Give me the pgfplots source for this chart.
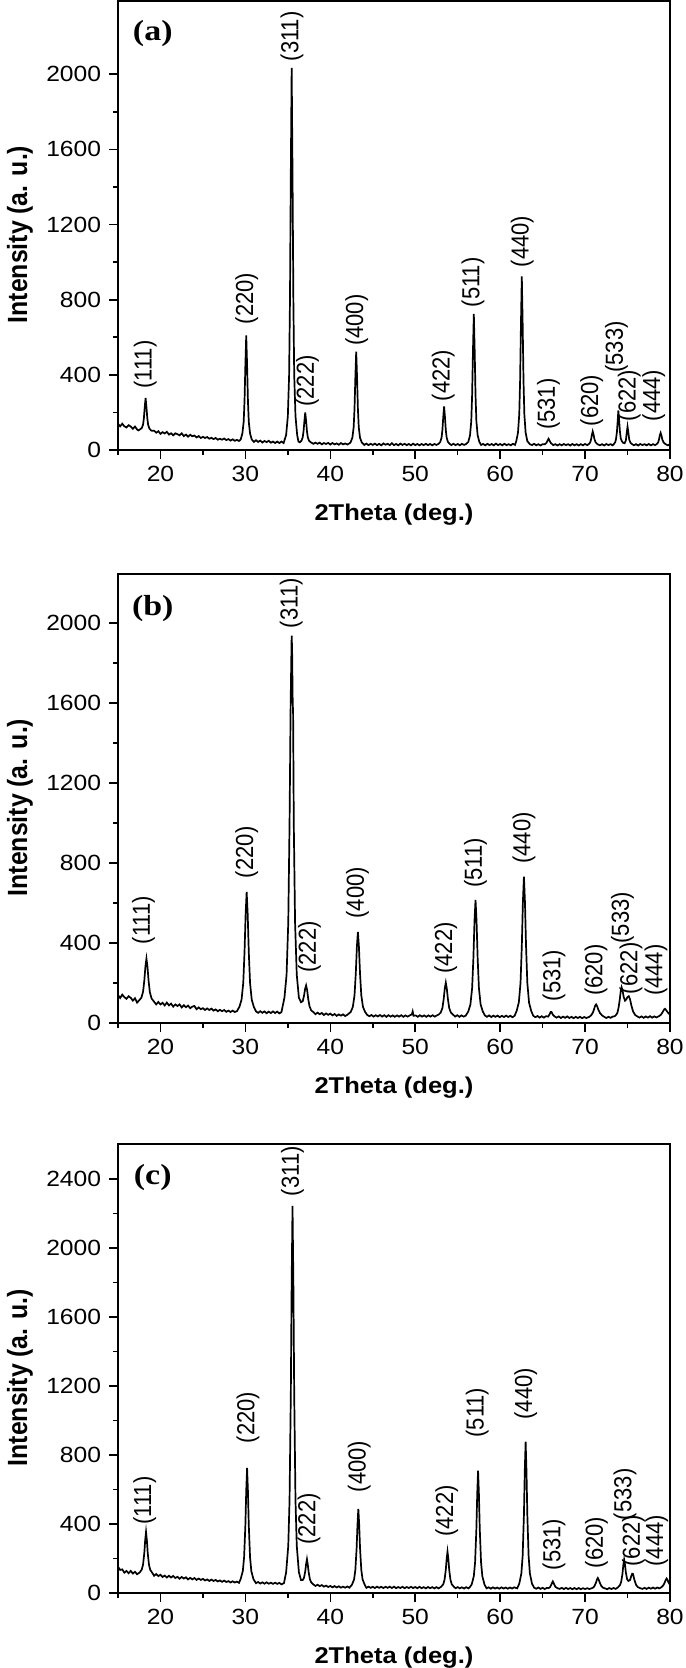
\documentclass[border=0pt]{standalone}
\usepackage{fontspec}
\setmainfont{Liberation Sans}
\newfontfamily\panelfont{Liberation Serif}
\usepackage{pgfplots}
\usepackage{pgfplotstable}
\pgfplotsset{compat=1.18}

\pgfplotstableread[row sep=\\]{
x y\\
15.00 140\\ 15.25 126\\ 15.50 140\\ 15.75 126\\ 16.00 120\\ 16.25 132\\ 16.50 125\\ 16.75 113\\ 17.00 125\\ 17.25 109\\ 17.40 104\\
17.60 110\\ 17.80 117\\ 17.95 135\\ 18.05 170\\ 18.15 229\\ 18.25 277\\ 18.35 228\\ 18.45 169\\ 18.55 134\\ 18.70 114\\ 18.90 104\\
19.00 102\\ 19.25 103\\ 19.50 92\\ 19.75 100\\ 20.00 86\\ 20.25 95\\ 20.50 88\\ 20.75 97\\ 21.00 82\\ 21.25 89\\ 21.50 78\\ 21.75 89\\
22.00 84\\ 22.25 78\\ 22.50 89\\ 22.75 74\\ 23.00 82\\ 23.25 71\\ 23.50 81\\ 23.75 73\\ 24.00 77\\ 24.25 67\\ 24.50 74\\ 24.75 64\\
25.00 70\\ 25.25 64\\ 25.50 69\\ 25.75 60\\ 26.00 65\\ 26.25 58\\ 26.50 64\\ 26.75 55\\ 27.00 60\\ 27.25 55\\ 27.50 61\\ 27.75 53\\
28.00 58\\ 28.25 50\\ 28.50 57\\ 28.75 49\\ 29.00 54\\ 29.25 48\\
29.45 56\\ 29.65 89\\ 29.80 151\\ 29.90 263\\ 30.00 453\\ 30.10 610\\ 30.20 453\\ 30.30 263\\ 30.40 150\\ 30.55 88\\ 30.75 56\\
31.00 43\\ 31.25 52\\ 31.50 43\\ 31.75 50\\ 32.00 40\\ 32.25 48\\ 32.50 42\\ 32.75 49\\ 33.00 39\\ 33.25 45\\ 33.50 37\\ 33.75 45\\
34.00 37\\ 34.25 45\\ 34.50 37\\
34.80 80\\ 35.00 180\\ 35.15 399\\ 35.25 798\\ 35.35 1476\\ 35.45 2034\\ 35.55 1476\\ 35.65 798\\ 35.75 399\\ 35.90 180\\ 36.10 79\\
36.25 45\\ 36.40 41\\ 36.60 49\\ 36.75 67\\ 36.85 100\\ 36.95 155\\ 37.05 200\\ 37.15 155\\ 37.25 100\\ 37.35 67\\ 37.50 49\\ 37.70 41\\
38.00 33\\ 38.25 39\\ 38.50 33\\ 38.75 39\\ 39.00 30\\ 39.25 37\\ 39.50 32\\ 39.75 38\\ 40.00 29\\ 40.25 37\\ 40.50 30\\ 40.75 35\\
41.00 28\\ 41.25 37\\ 41.50 30\\ 41.75 35\\ 42.00 29\\ 42.25 35\\
42.40 42\\ 42.60 66\\ 42.75 121\\ 42.85 219\\ 42.95 386\\ 43.05 524\\ 43.15 386\\ 43.25 219\\ 43.35 121\\ 43.50 65\\ 43.70 41\\
44.00 27\\ 44.25 34\\ 44.50 26\\ 44.75 33\\ 45.00 27\\ 45.25 34\\ 45.50 26\\ 45.75 33\\ 46.00 25\\ 46.25 35\\ 46.50 28\\ 46.75 33\\
47.00 26\\ 47.25 36\\ 47.50 26\\ 47.75 32\\ 48.00 25\\ 48.25 34\\ 48.50 27\\ 48.75 33\\ 49.00 26\\ 49.25 32\\ 49.50 25\\ 49.75 34\\
50.00 26\\ 50.25 32\\ 50.50 25\\ 50.75 32\\ 51.00 26\\ 51.25 33\\ 51.50 26\\ 51.75 32\\ 52.00 25\\ 52.25 32\\ 52.50 27\\
52.75 33\\ 52.95 43\\ 53.10 66\\ 53.20 106\\ 53.30 175\\ 53.40 232\\ 53.50 175\\ 53.60 106\\ 53.70 66\\ 53.85 43\\ 54.05 33\\
54.25 26\\ 54.50 33\\ 54.75 26\\ 55.00 32\\ 55.25 25\\ 55.50 33\\ 55.75 27\\ 56.00 32\\
56.25 43\\ 56.45 78\\ 56.60 154\\ 56.70 293\\ 56.80 529\\ 56.90 724\\ 57.00 529\\ 57.10 293\\ 57.20 154\\ 57.35 78\\ 57.55 43\\
57.75 27\\ 58.00 32\\ 58.25 25\\ 58.50 33\\ 58.75 26\\ 59.00 32\\ 59.25 25\\ 59.50 34\\ 59.75 26\\ 60.00 32\\ 60.25 25\\ 60.50 33\\
60.75 26\\ 61.00 31\\ 61.25 25\\ 61.50 33\\ 61.75 27\\
61.90 47\\ 62.10 92\\ 62.25 190\\ 62.35 369\\ 62.45 673\\ 62.55 924\\ 62.65 673\\ 62.75 369\\ 62.85 190\\ 63.00 92\\ 63.20 47\\
63.50 31\\ 63.75 26\\ 64.00 33\\ 64.25 25\\ 64.50 31\\ 64.75 24\\ 65.00 31\\ 65.25 30\\
65.45 38\\ 65.60 52\\ 65.70 60\\ 65.80 52\\ 65.95 38\\
66.25 26\\ 66.50 31\\ 66.75 24\\ 67.00 31\\ 67.25 25\\ 67.50 32\\ 67.75 26\\ 68.00 31\\ 68.25 24\\ 68.50 32\\ 68.75 25\\ 69.00 31\\
69.25 24\\ 69.50 31\\ 69.75 25\\ 70.00 32\\ 70.25 26\\
70.45 32\\ 70.60 40\\ 70.70 55\\ 70.80 80\\ 70.90 99\\ 71.00 82\\ 71.10 58\\ 71.25 40\\ 71.45 31\\
71.75 25\\ 72.00 31\\ 72.25 24\\ 72.50 32\\ 72.75 26\\ 73.00 31\\ 73.25 25\\
73.40 32\\ 73.55 42\\ 73.65 60\\ 73.75 97\\ 73.85 160\\ 73.92 210\\ 74.00 165\\ 74.10 100\\ 74.20 62\\ 74.35 45\\ 74.50 38\\
74.65 36\\ 74.80 50\\ 74.90 90\\ 75.00 124\\ 75.10 92\\ 75.20 55\\ 75.35 38\\ 75.55 31\\
75.75 25\\ 76.00 31\\ 76.25 24\\ 76.50 32\\ 76.75 26\\ 77.00 31\\ 77.25 25\\ 77.50 32\\ 77.75 25\\ 78.00 31\\ 78.25 26\\
78.45 32\\ 78.60 40\\ 78.70 55\\ 78.80 78\\ 78.90 91\\ 79.00 76\\ 79.10 55\\ 79.25 40\\ 79.45 32\\ 79.75 25\\ 80.00 31\\
}\dataA

\pgfplotstableread[row sep=\\]{
x y\\
15.00 140\\ 15.25 125\\ 15.50 142\\ 15.75 129\\ 16.00 121\\ 16.25 134\\ 16.50 126\\ 16.75 112\\ 17.00 124\\ 17.25 102\\
17.50 114\\ 17.75 126\\ 17.95 156\\ 18.10 213\\ 18.23 283\\ 18.35 322\\ 18.47 282\\ 18.60 212\\ 18.75 154\\ 18.95 123\\ 19.20 109\\
19.50 93\\ 19.75 105\\ 20.00 93\\ 20.25 101\\ 20.50 88\\ 20.75 102\\ 21.00 88\\ 21.25 97\\ 21.50 82\\ 21.75 93\\ 22.00 85\\ 22.25 93\\
22.50 78\\ 22.75 89\\ 23.00 79\\ 23.25 87\\ 23.50 74\\ 23.75 82\\ 24.00 85\\ 24.25 69\\ 24.50 78\\ 24.75 69\\ 25.00 74\\ 25.25 65\\
25.50 73\\ 25.75 65\\ 26.00 72\\ 26.25 62\\ 26.50 68\\ 26.75 59\\ 27.00 66\\ 27.25 59\\ 27.50 65\\ 27.75 56\\ 28.00 62\\ 28.25 55\\
28.50 62\\ 28.75 55\\ 29.00 59\\
29.30 81\\ 29.55 117\\ 29.75 201\\ 29.90 356\\ 30.03 547\\ 30.15 655\\ 30.27 546\\ 30.40 355\\ 30.55 200\\ 30.75 116\\ 31.00 80\\
31.25 58\\ 31.50 51\\ 31.75 59\\ 32.00 51\\ 32.25 58\\ 32.50 49\\ 32.75 57\\ 33.00 50\\ 33.25 58\\ 33.50 50\\ 33.75 57\\ 34.00 48\\ 34.25 55\\
34.60 127\\ 34.85 241\\ 35.05 504\\ 35.20 994\\ 35.33 1598\\ 35.40 1800\\ 35.45 1937\\ 35.50 1870\\ 35.57 1610\\ 35.62 1545\\ 35.70 994\\ 35.85 504\\ 36.05 241\\ 36.30 127\\
36.55 104\\ 36.75 109\\ 36.90 135\\ 37.03 170\\ 37.15 188\\ 37.27 165\\ 37.40 120\\ 37.55 84\\ 37.75 63\\ 38.00 55\\
38.25 44\\ 38.50 52\\ 38.75 44\\ 39.00 50\\ 39.25 40\\ 39.50 48\\ 39.75 41\\ 40.00 47\\ 40.25 38\\ 40.50 45\\ 40.75 36\\ 41.00 43\\
41.25 37\\ 41.50 43\\ 41.75 35\\ 42.00 41\\
42.40 55\\ 42.65 80\\ 42.85 138\\ 43.00 247\\ 43.13 381\\ 43.25 456\\ 43.37 381\\ 43.50 247\\ 43.65 138\\ 43.85 80\\ 44.10 55\\
44.35 40\\ 44.60 34\\ 44.85 40\\ 45.10 32\\ 45.35 39\\ 45.60 33\\ 45.85 40\\ 46.10 32\\ 46.35 39\\ 46.60 31\\ 46.85 39\\ 47.10 32\\
47.35 38\\ 47.60 31\\ 47.85 38\\ 48.10 32\\ 48.35 39\\ 48.60 31\\ 48.85 38\\ 49.10 32\\ 49.35 38\\ 49.60 43\\ 49.70 58\\ 49.80 36\\
50.05 38\\ 50.30 31\\ 50.55 39\\ 50.80 32\\ 51.05 38\\ 51.30 31\\ 51.55 38\\ 51.80 32\\ 52.05 39\\ 52.30 32\\ 52.55 38\\
52.75 42\\ 53.00 52\\ 53.20 75\\ 53.35 119\\ 53.48 172\\ 53.60 202\\ 53.72 172\\ 53.85 119\\ 54.00 75\\ 54.20 52\\ 54.45 42\\
54.70 32\\ 54.95 39\\ 55.20 31\\ 55.45 38\\ 55.70 32\\ 55.95 37\\
56.25 58\\ 56.50 93\\ 56.70 174\\ 56.85 325\\ 56.98 511\\ 57.10 616\\ 57.22 511\\ 57.35 325\\ 57.50 174\\ 57.70 93\\ 57.95 58\\
58.20 38\\ 58.45 31\\ 58.70 38\\ 58.95 30\\ 59.20 37\\ 59.45 31\\ 59.70 37\\ 59.95 29\\ 60.20 36\\ 60.45 30\\ 60.70 37\\ 60.95 30\\
61.20 36\\ 61.45 29\\ 61.70 36\\
61.95 61\\ 62.20 103\\ 62.40 201\\ 62.55 383\\ 62.68 606\\ 62.80 732\\ 62.92 606\\ 63.05 383\\ 63.20 201\\ 63.40 103\\ 63.65 61\\
63.90 36\\ 64.15 29\\ 64.40 35\\ 64.65 27\\ 64.90 34\\ 65.15 27\\ 65.40 34\\ 65.65 32\\
65.80 42\\ 65.95 55\\ 66.05 55\\ 66.20 42\\ 66.40 33\\
66.65 27\\ 66.90 33\\ 67.15 25\\ 67.40 32\\ 67.65 26\\ 67.90 33\\ 68.15 25\\ 68.40 31\\ 68.65 24\\ 68.90 31\\ 69.15 25\\ 69.40 31\\
69.65 24\\ 69.90 30\\ 70.15 25\\
70.50 31\\ 70.75 40\\ 70.95 55\\ 71.10 75\\ 71.20 88\\ 71.30 93\\ 71.42 84\\ 71.55 68\\ 71.75 50\\ 72.00 38\\ 72.25 31\\
72.50 25\\ 72.75 31\\ 73.00 26\\ 73.25 32\\ 73.50 34\\
73.60 38\\ 73.80 50\\ 73.95 78\\ 74.10 122\\ 74.20 160\\ 74.30 179\\ 74.40 165\\ 74.55 130\\ 74.70 112\\ 74.85 118\\ 75.00 130\\
75.15 134\\ 75.30 118\\ 75.45 88\\ 75.65 58\\ 75.90 40\\ 76.15 33\\
76.40 27\\ 76.65 33\\ 76.90 26\\ 77.15 33\\ 77.40 27\\ 77.65 34\\ 77.90 27\\ 78.15 33\\ 78.40 28\\
78.70 34\\ 78.95 42\\ 79.15 56\\ 79.30 67\\ 79.40 71\\ 79.52 66\\ 79.65 58\\ 79.80 50\\ 80.00 42\\
}\dataB

\pgfplotstableread[row sep=\\]{
x y\\
15.00 152\\ 15.25 134\\ 15.50 137\\ 15.75 118\\ 16.00 128\\ 16.25 115\\ 16.50 128\\ 16.75 113\\ 17.00 123\\ 17.25 109\\
17.55 119\\ 17.80 136\\ 17.95 165\\ 18.10 233\\ 18.20 306\\ 18.30 354\\ 18.40 305\\ 18.50 232\\ 18.65 163\\ 18.80 134\\ 19.05 116\\
19.25 100\\ 19.50 110\\ 19.75 98\\ 20.00 106\\ 20.25 93\\ 20.50 101\\ 20.75 90\\ 21.00 100\\ 21.25 90\\ 21.50 99\\ 21.75 87\\
22.00 94\\ 22.25 83\\ 22.50 93\\ 22.75 84\\ 23.00 91\\ 23.25 79\\ 23.50 88\\ 23.75 79\\ 24.00 87\\ 24.25 76\\ 24.50 84\\ 24.75 76\\
25.00 82\\ 25.25 73\\ 25.50 79\\ 25.75 70\\ 26.00 78\\ 26.25 70\\ 26.50 76\\ 26.75 67\\ 27.00 73\\ 27.25 65\\ 27.50 72\\ 27.75 64\\
28.00 69\\ 28.25 61\\ 28.50 68\\ 28.75 61\\ 29.00 66\\ 29.25 59\\
29.45 82\\ 29.70 128\\ 29.85 208\\ 30.00 394\\ 30.10 592\\ 30.20 725\\ 30.30 591\\ 30.40 393\\ 30.55 207\\ 30.70 127\\ 30.95 80\\
31.25 57\\ 31.50 64\\ 31.75 55\\ 32.00 62\\ 32.25 54\\ 32.50 62\\ 32.75 54\\ 33.00 60\\ 33.25 53\\ 33.50 60\\ 33.75 53\\ 34.00 59\\
34.25 50\\ 34.55 58\\
34.80 121\\ 35.05 274\\ 35.20 537\\ 35.35 1150\\ 35.45 1806\\ 35.55 2244\\ 35.65 1806\\ 35.75 1150\\ 35.90 537\\ 36.05 274\\ 36.30 121\\ 36.55 75\\
36.75 75\\ 36.90 88\\ 37.05 126\\ 37.15 167\\ 37.25 196\\ 37.35 164\\ 37.45 121\\ 37.60 79\\ 37.75 62\\
38.00 50\\ 38.25 41\\ 38.50 48\\ 38.75 40\\ 39.00 46\\ 39.25 37\\ 39.50 43\\ 39.75 35\\ 40.00 41\\ 40.25 33\\ 40.50 40\\ 40.75 32\\
41.00 39\\ 41.25 31\\ 41.50 37\\ 41.75 31\\ 42.00 38\\ 42.25 31\\
42.55 48\\ 42.80 79\\ 42.95 134\\ 43.10 261\\ 43.20 396\\ 43.30 488\\ 43.40 396\\ 43.50 261\\ 43.65 134\\ 43.80 79\\ 44.05 48\\
44.25 30\\ 44.50 37\\ 44.75 30\\ 45.00 36\\ 45.25 29\\ 45.50 37\\ 45.75 30\\ 46.00 36\\ 46.25 29\\ 46.50 36\\ 46.75 30\\ 47.00 37\\
47.25 29\\ 47.50 37\\ 47.75 28\\ 48.00 35\\ 48.25 29\\ 48.50 36\\ 48.75 28\\ 49.00 35\\ 49.25 29\\ 49.50 36\\ 49.75 29\\ 50.00 35\\
50.25 28\\ 50.50 36\\ 50.75 28\\ 51.00 34\\ 51.25 27\\ 51.50 35\\ 51.75 28\\ 52.00 34\\ 52.25 27\\ 52.50 34\\ 52.75 27\\
53.05 36\\ 53.30 51\\ 53.45 76\\ 53.60 135\\ 53.70 198\\ 53.80 240\\ 53.90 198\\ 54.00 135\\ 54.15 76\\ 54.30 51\\ 54.55 36\\
54.75 28\\ 55.00 34\\ 55.25 27\\ 55.50 33\\ 55.75 26\\ 56.00 34\\ 56.25 27\\ 56.40 32\\
56.65 50\\ 56.90 98\\ 57.05 179\\ 57.20 370\\ 57.30 573\\ 57.40 709\\ 57.50 573\\ 57.60 370\\ 57.75 179\\ 57.90 98\\ 58.15 50\\
58.40 27\\ 58.65 33\\ 58.90 25\\ 59.15 33\\ 59.40 26\\ 59.65 32\\ 59.90 25\\ 60.15 33\\ 60.40 26\\ 60.65 32\\ 60.90 25\\ 61.15 32\\
61.40 26\\ 61.65 33\\ 62.00 27\\
62.25 54\\ 62.50 114\\ 62.65 216\\ 62.80 454\\ 62.90 708\\ 63.00 878\\ 63.10 708\\ 63.20 454\\ 63.35 216\\ 63.50 114\\ 63.75 54\\
64.00 31\\ 64.25 25\\ 64.50 32\\ 64.75 24\\ 65.00 30\\ 65.25 23\\ 65.50 30\\ 65.75 29\\
65.90 36\\ 66.05 52\\ 66.20 67\\ 66.35 52\\ 66.50 36\\ 66.75 28\\
67.00 24\\ 67.25 30\\ 67.50 23\\ 67.75 30\\ 68.00 23\\ 68.25 29\\ 68.50 22\\ 68.75 29\\ 69.00 22\\ 69.25 29\\ 69.50 22\\ 69.75 28\\
70.00 23\\ 70.25 28\\ 70.50 23\\
70.75 27\\ 71.00 33\\ 71.15 45\\ 71.30 62\\ 71.40 78\\ 71.50 87\\ 71.60 78\\ 71.75 58\\ 71.90 42\\ 72.10 31\\ 72.35 27\\
72.60 22\\ 72.85 29\\ 73.10 23\\ 73.35 29\\ 73.60 24\\
73.85 32\\ 74.10 45\\ 74.25 64\\ 74.40 110\\ 74.50 160\\ 74.60 194\\ 74.70 165\\ 74.80 120\\ 74.95 80\\ 75.10 70\\ 75.30 76\\
75.45 100\\ 75.55 112\\ 75.65 110\\ 75.80 78\\ 76.00 48\\ 76.20 35\\ 76.45 29\\
76.75 24\\ 77.00 30\\ 77.25 24\\ 77.50 31\\ 77.75 25\\ 78.00 32\\ 78.25 25\\ 78.50 32\\ 78.75 27\\
79.00 34\\ 79.20 44\\ 79.35 58\\ 79.50 76\\ 79.60 84\\ 79.70 77\\ 79.82 62\\ 80.00 48\\
}\dataC

\pgfplotsset{
  xrd/.style={
    scale only axis, width=276pt, height=224.5pt,
    xmin=15, xmax=80, ymin=0,
    xtick={20,30,...,80}, minor xtick={15,25,...,75},
    minor y tick num=1,
    tick align=outside, xtick pos=bottom, ytick pos=left,
    major tick length=4.5pt, minor tick length=2.5pt,
    axis line style={line width=1pt},
    every tick/.style={black, line width=0.8pt},
    ticklabel style={font=\fontsize{11}{13}\selectfont, xscale=1.12},
    /pgf/number format/assume math mode=true,
    /pgf/number format/set thousands separator={},
    xlabel={2Theta (deg.)}, ylabel={Intensity (a. u.)},
    xlabel style={font=\fontsize{11.4}{14}\selectfont\bfseries, at={(axis description cs:0.5,-0.143)}, anchor=center, xscale=1.12},
    ylabel style={font=\fontsize{12.4}{14}\selectfont\bfseries, at={(axis description cs:-0.1775,0.48)}, anchor=center, yscale=1.12},
    clip=false,
  },
}
\tikzset{
  pk/.style={rotate=90, yscale=1.12, anchor=west, inner sep=0pt, font=\fontsize{11}{12}\selectfont},
  pl/.style={font=\panelfont\bfseries\fontsize{14.5}{17}\selectfont, anchor=center, xscale=1.17},
}

\begin{document}
\begin{tikzpicture}
\path[use as bounding box] (0,0) rectangle (342.5pt,-834pt);

% (a)
\begin{axis}[xrd, at={(59pt,-225pt)}, anchor=south west, ymax=2390, ytick={0,400,...,2000}]
\addplot[black, line width=0.85pt, sharp plot, mark=none] table[x=x,y=y] {\dataA};
\node[pl] at (rel axis cs:0.063,0.928) {(a)};
\node[pk] at (axis cs:18.2,324) {(111)};
\node[pk] at (axis cs:30.15,667) {(220)};
\node[pk] at (axis cs:35.5,2067) {(311)};
\node[pk] at (axis cs:37.3,229) {(222)};
\node[pk] at (axis cs:43.1,552) {(400)};
\node[pk] at (axis cs:53.3,257) {(422)};
\node[pk] at (axis cs:56.8,758) {(511)};
\node[pk] at (axis cs:62.6,971) {(440)};
\node[pk] at (axis cs:65.7,105) {(531)};
\node[pk] at (axis cs:70.8,124) {(620)};
\node[pk] at (axis cs:73.7,410) {(533)};
\node[pk] at (axis cs:75.2,152) {(622)};
\node[pk] at (axis cs:78.1,152) {(444)};
\end{axis}

% (b)
\begin{axis}[xrd, at={(59pt,-511.5pt)}, anchor=south west, ymax=2245, ytick={0,400,...,2000}]
\addplot[black, line width=0.85pt, sharp plot, mark=none] table[x=x,y=y] {\dataB};
\node[pl] at (rel axis cs:0.063,0.924) {(b)};
\node[pk] at (axis cs:18.0,393) {(111)};
\node[pk] at (axis cs:30.15,723) {(220)};
\node[pk] at (axis cs:35.4,1973) {(311)};
\node[pk] at (axis cs:37.55,250) {(222)};
\node[pk] at (axis cs:43.2,521) {(400)};
\node[pk] at (axis cs:53.6,245) {(422)};
\node[pk] at (axis cs:57.1,675) {(511)};
\node[pk] at (axis cs:62.8,795) {(440)};
\node[pk] at (axis cs:66.35,107) {(531)};
\node[pk] at (axis cs:71.3,134) {(620)};
\node[pk] at (axis cs:74.4,396) {(533)};
\node[pk] at (axis cs:75.4,143) {(622)};
\node[pk] at (axis cs:78.35,134) {(444)};
\end{axis}

% (c)
\begin{axis}[xrd, at={(59pt,-796.5pt)}, anchor=south west, ymax=2603, ytick={0,400,...,2400}]
\addplot[black, line width=0.85pt, sharp plot, mark=none] table[x=x,y=y] {\dataC};
\node[pl] at (rel axis cs:0.063,0.925) {(c)};
\node[pk] at (axis cs:18.15,394) {(111)};
\node[pk] at (axis cs:30.3,867) {(220)};
\node[pk] at (axis cs:35.55,2299) {(311)};
\node[pk] at (axis cs:37.5,278) {(222)};
\node[pk] at (axis cs:43.4,583) {(400)};
\node[pk] at (axis cs:53.7,324) {(422)};
\node[pk] at (axis cs:57.3,899) {(511)};
\node[pk] at (axis cs:63.0,1004) {(440)};
\node[pk] at (axis cs:66.35,131) {(531)};
\node[pk] at (axis cs:71.35,141) {(620)};
\node[pk] at (axis cs:74.7,421) {(533)};
\node[pk] at (axis cs:75.7,152) {(622)};
\node[pk] at (axis cs:78.45,152) {(444)};
\end{axis}
\end{tikzpicture}
\end{document}
